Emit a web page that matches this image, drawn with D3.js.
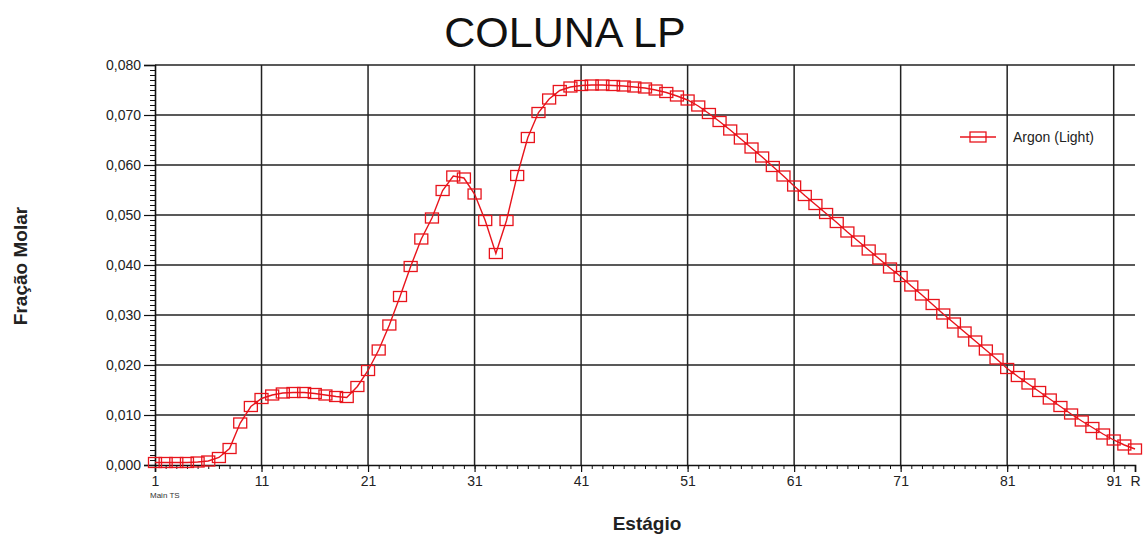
<!DOCTYPE html>
<html>
<head>
<meta charset="utf-8">
<script src="https://cdn.jsdelivr.net/npm/d3@7/dist/d3.min.js"></script>
<style>
  html, body { margin: 0; padding: 0; background: #fff; }
  svg { display: block; }
</style>
</head>
<body>
<div id="chart"></div>
<script>
// Stage numbers along the column (last stage is the reboiler, labelled "R")
const stages = d3.range(1, 94);
const stageTickValues = [1, 11, 21, 31, 41, 51, 61, 71, 81, 91, 93];
const stageTickLabels = ["1", "11", "21", "31", "41", "51", "61", "71", "81", "91", "R"];

// Argon (Light) molar fraction per stage
const argonValues = [
  0.0005, 0.0005, 0.0005, 0.0005, 0.0006, 0.0008, 0.0015, 0.0033, 0.0084, 0.0117,
  0.0133, 0.0140, 0.0144, 0.0145, 0.0145, 0.0143, 0.0140, 0.0137, 0.0135, 0.0157,
  0.0189, 0.0230, 0.0280, 0.0337, 0.0397, 0.0452, 0.0494, 0.0549, 0.0578, 0.0574,
  0.0542, 0.0489, 0.0423, 0.0489, 0.0579, 0.0655, 0.0705, 0.0732, 0.0749, 0.0756,
  0.0759, 0.0760, 0.0760, 0.0759, 0.0758, 0.0756, 0.0754, 0.0750, 0.0745, 0.0738,
  0.0730, 0.0718, 0.0703, 0.0687, 0.0670, 0.0652, 0.0634, 0.0616, 0.0597, 0.0578,
  0.0558, 0.0539, 0.0521, 0.0503, 0.0485, 0.0466, 0.0448, 0.0430, 0.0412, 0.0394,
  0.0377, 0.0358, 0.0340, 0.0321, 0.0302, 0.0284, 0.0266, 0.0248, 0.0230, 0.0212,
  0.0193, 0.0177, 0.0162, 0.0147, 0.0132, 0.0117, 0.0102, 0.0088, 0.0075, 0.0062,
  0.0050, 0.0040, 0.0032
];

const yTickValues = [0, 0.01, 0.02, 0.03, 0.04, 0.05, 0.06, 0.07, 0.08];
const seriesName = "Argon (Light)";

const W = 1148, H = 538;
const margin = { top: 65, right: 13, bottom: 73, left: 155 };
const red = "#e8141c";
const gridColor = "#222";
const font = "'Liberation Sans', Arial, sans-serif";

const svg = d3.select("#chart").append("svg")
  .attr("width", W).attr("height", H)
  .style("background", "#fff");

const x = d3.scaleLinear().domain([1, 93]).range([margin.left, W - margin.right]);
const y = d3.scaleLinear().domain([0, 0.08]).range([H - margin.bottom, margin.top]);

// Title
svg.append("text")
  .attr("x", 565).attr("y", 47)
  .attr("text-anchor", "middle")
  .style("font-family", font).style("font-size", "43px").style("fill", "#111")
  .text("COLUNA LP");

// Grid lines
const grid = svg.append("g");
grid.selectAll("line.h").data(yTickValues.filter(d => d > 0)).join("line")
  .attr("x1", x(1)).attr("x2", x(93))
  .attr("y1", d => y(d)).attr("y2", d => y(d))
  .attr("stroke", gridColor).attr("stroke-width", 1.5);
grid.selectAll("line.v").data(stageTickValues.filter(d => d > 1 && d < 93)).join("line")
  .attr("x1", d => x(d)).attr("x2", d => x(d))
  .attr("y1", y(0)).attr("y2", y(0.08))
  .attr("stroke", gridColor).attr("stroke-width", 1.5);

// Y axis: major ticks with labels, minor ticks every 0.001
const yAxis = d3.axisLeft(y)
  .tickValues(yTickValues)
  .tickSize(11)
  .tickPadding(3)
  .tickFormat(d => d3.format(".3f")(d).replace(".", ","));
const yg = svg.append("g").attr("transform", `translate(${x(1)},0)`).call(yAxis);
yg.select(".domain").attr("stroke", "#111").attr("stroke-width", 1.6);
yg.selectAll(".tick line").attr("stroke", "#111").attr("stroke-width", 1.2);
yg.selectAll(".tick text").style("font-family", font).style("font-size", "14px").style("fill", "#222");
const yMinor = d3.axisLeft(y).tickValues(d3.range(0, 81).map(i => i / 1000)).tickSize(5).tickFormat("");
const ym = svg.append("g").attr("transform", `translate(${x(1)},0)`).call(yMinor);
ym.select(".domain").remove();
ym.selectAll(".tick line").attr("stroke", "#111").attr("stroke-width", 1);

// X axis: labelled stage ticks, minor tick at every stage
const xAxis = d3.axisBottom(x)
  .tickValues(stageTickValues)
  .tickSize(7)
  .tickPadding(4)
  .tickFormat((d, i) => stageTickLabels[i]);
const xg = svg.append("g").attr("transform", `translate(0,${y(0)})`).call(xAxis);
xg.select(".domain").attr("stroke", "#111").attr("stroke-width", 1.6);
xg.selectAll(".tick line").attr("stroke", "#111").attr("stroke-width", 1.2);
xg.selectAll(".tick text").style("font-family", font).style("font-size", "14px").style("fill", "#222");
const xMinor = d3.axisBottom(x).tickValues(stages).tickSize(4).tickFormat("");
const xm = svg.append("g").attr("transform", `translate(0,${y(0)})`).call(xMinor);
xm.select(".domain").remove();
xm.selectAll(".tick line").attr("stroke", "#111").attr("stroke-width", 1);

// Small caption under the first stage
svg.append("text")
  .attr("x", x(1) - 5).attr("y", 498)
  .style("font-family", font).style("font-size", "8px").style("fill", "#333")
  .text("Main TS");

// Axis titles
svg.append("text")
  .attr("transform", `translate(27,266) rotate(-90)`)
  .attr("text-anchor", "middle")
  .style("font-family", font).style("font-size", "19px").style("font-weight", "bold").style("fill", "#222")
  .text("Fração Molar");
svg.append("text")
  .attr("x", 647).attr("y", 530)
  .attr("text-anchor", "middle")
  .style("font-family", font).style("font-size", "19px").style("font-weight", "bold").style("fill", "#222")
  .text("Estágio");

// Series line and markers
const points = stages.map((s, i) => ({ s, v: argonValues[i] }));
const line = d3.line().x(d => x(d.s)).y(d => y(d.v));
svg.append("path").datum(points)
  .attr("d", line)
  .attr("fill", "none").attr("stroke", red).attr("stroke-width", 1.4);

const mw = 13, mh = 10;
svg.append("g").selectAll("rect").data(points).join("rect")
  .attr("x", d => x(d.s) - mw / 2).attr("y", d => y(d.v) - mh / 2)
  .attr("width", mw).attr("height", mh)
  .attr("fill", "none").attr("stroke", red).attr("stroke-width", 1.3);

// Legend
const lg = svg.append("g").attr("transform", "translate(960,137)");
lg.append("line").attr("x1", 0).attr("x2", 36).attr("y1", 0).attr("y2", 0)
  .attr("stroke", red).attr("stroke-width", 1.4);
lg.append("rect").attr("x", 18 - 8).attr("y", -5).attr("width", 16).attr("height", 10)
  .attr("fill", "none").attr("stroke", red).attr("stroke-width", 1.3);
lg.append("text").attr("x", 53).attr("y", 0).attr("dy", "0.35em")
  .style("font-family", font).style("font-size", "14px").style("fill", "#222")
  .text(seriesName);
</script>
</body>
</html>
